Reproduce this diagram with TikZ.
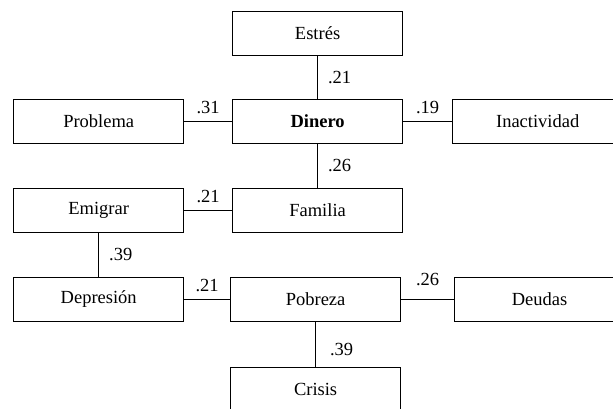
\documentclass[tikz,border=0pt]{standalone}
\usepackage{fontspec}
\setmainfont{Liberation Serif}
\begin{document}
\begin{tikzpicture}[x=1pt,y=-1pt,
    caja/.style={draw, line width=1pt, minimum width=170pt, minimum height=44pt,
        inner sep=0pt, font=\fontsize{18.5}{22}\selectfont},
    peso/.style={font=\fontsize{18.5}{22}\selectfont, inner sep=3pt},
    enlace/.style={line width=1pt}]
    \useasboundingbox (0,0) rectangle (613,408);
    \clip (0,0) rectangle (613,408);

    \node[caja] (estres) at (317.6,33.5) {Estrés};
    \node[caja] (problema) at (98.7,121.5) {Problema};
    \node[caja] (dinero) at (317.6,121.5) {\textbf{Dinero}};
    \node[caja] (inactividad) at (537.7,121.5) {Inactividad};
    \node[caja] (emigrar) at (98.7,210.5) {Emigrar};
    \node[caja] (familia) at (317.6,210.5) {Familia};
    \node[caja] (depresion) at (98.7,299) {Depresión};
    \node[caja] (pobreza) at (315.6,299) {Pobreza};
    \node[caja] (deudas) at (539.6,299) {Deudas};
    \node[caja] (crisis) at (315.6,389.3) {Crisis};

    \draw[enlace] (estres) -- (dinero) node[peso,midway,right=7pt]{.21};
    \draw[enlace] (problema) -- (dinero) node[peso,midway,above=4pt]{.31};
    \draw[enlace] (dinero) -- (inactividad) node[peso,midway,above=4pt]{.19};
    \draw[enlace] (dinero) -- (familia) node[peso,midway,right=7pt]{.26};
    \draw[enlace] (emigrar) -- (familia) node[peso,midway,above=4pt]{.21};
    \draw[enlace] (emigrar) -- (depresion) node[peso,midway,right=7pt]{.39};
    \draw[enlace] (depresion) -- (pobreza) node[peso,midway,above=4pt]{.21};
    \draw[enlace] (pobreza) -- (deudas) node[peso,midway,above=10pt]{.26};
    \draw[enlace] (pobreza) -- (crisis) node[peso,midway,right=11pt,yshift=-5pt]{.39};
\end{tikzpicture}
\end{document}
